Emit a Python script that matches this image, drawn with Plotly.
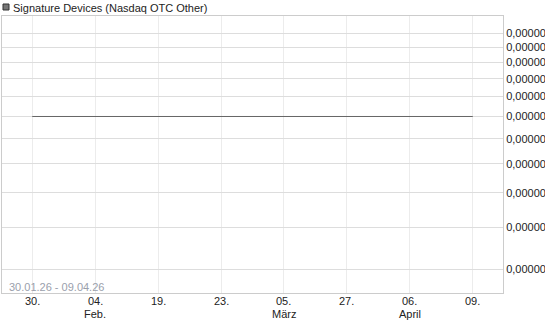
import plotly.graph_objects as go

# ---- data ----
dates = ["2026-01-30", "2026-02-04", "2026-02-19", "2026-02-23",
         "2026-03-05", "2026-03-27", "2026-04-06", "2026-04-09"]
prices = [0.0000009] * 8
day_labels = ["30.", "04.", "19.", "23.", "05.", "27.", "06.", "09."]
month_labels = ["", "Feb.", "", "", "März", "", "April", ""]
y_ticks = [0.0000004, 0.0000005, 0.0000006, 0.0000007, 0.0000008, 0.0000009,
           0.0000010, 0.0000011, 0.0000012, 0.0000013, 0.0000014]
y_tick_labels = ["0,00000"] * len(y_ticks)
series_name = "Signature Devices (Nasdaq OTC Other)"
range_text = "30.01.26 - 09.04.26"

W, H = 545, 327
ML, MR, MT, MB = 2, 42, 16, 34
PW, PH = W - ML - MR, H - MT - MB

def px_x(p):
    return (p - ML) / PW

def px_y(p):
    return (H - MB - p) / PH

FONT = "Liberation Sans, Arial, sans-serif"
TXT = "#222222"

fig = go.Figure()
fig.add_trace(go.Scatter(x=dates, y=prices, mode="lines",
                         line=dict(color="#666666", width=1),
                         name=series_name, showlegend=False, hoverinfo="skip"))

annotations = [
    dict(text=series_name, xref="paper", yref="paper",
         x=px_x(11), y=px_y(7.5), xanchor="left", yanchor="middle",
         showarrow=False, font=dict(family=FONT, size=11, color=TXT)),
    dict(text=range_text, xref="paper", yref="paper",
         x=px_x(7), y=px_y(286.5), xanchor="left", yanchor="middle",
         showarrow=False, font=dict(family=FONT, size=11, color="#9aa0ac")),
]
for d, day, mon in zip(dates, day_labels, month_labels):
    annotations.append(dict(text=day, xref="x", yref="paper", x=d, y=px_y(301),
                            xanchor="center", yanchor="middle", showarrow=False,
                            font=dict(family=FONT, size=11, color=TXT)))
    if mon:
        annotations.append(dict(text=mon, xref="x", yref="paper", x=d, y=px_y(314),
                                xanchor="center", yanchor="middle", showarrow=False,
                                font=dict(family=FONT, size=11, color=TXT)))

fig.update_layout(
    width=W, height=H,
    margin=dict(l=ML, r=MR, t=MT, b=MB, pad=0, autoexpand=False),
    paper_bgcolor="white", plot_bgcolor="white",
    font=dict(family=FONT, size=11, color=TXT),
    xaxis=dict(type="category", range=[-0.48, 7.48], automargin=False,
               tickmode="array", tickvals=dates, showticklabels=False,
               showgrid=True, gridcolor="#ececec", gridwidth=1,
               showline=True, linecolor="#cccccc", mirror=True,
               ticks="", zeroline=False),
    yaxis=dict(type="log", side="right", range=[-6.4525, -5.8142], automargin=False,
               tickmode="array", tickvals=y_ticks, ticktext=y_tick_labels,
               showgrid=True, gridcolor="#dddddd", gridwidth=1,
               showline=True, linecolor="#cccccc", mirror=True,
               ticks="", zeroline=False, ticklabelstandoff=0,
               tickfont=dict(family=FONT, size=11, color=TXT)),
    shapes=[dict(type="rect", xref="paper", yref="paper",
                 x0=px_x(3), x1=px_x(9), y0=px_y(10), y1=px_y(4),
                 fillcolor="#777777", line=dict(color="#333333", width=1))],
    annotations=annotations,
)

fig.write_html("out.html")
